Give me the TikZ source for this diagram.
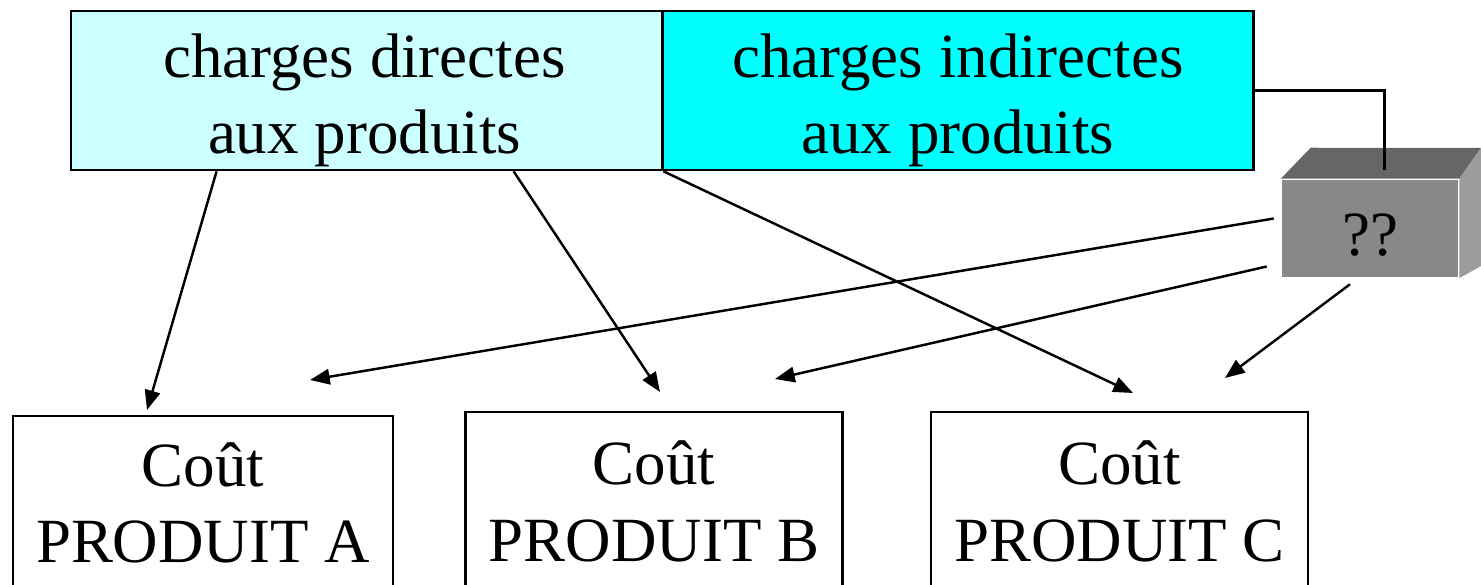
\documentclass[tikz,border=0pt]{standalone}
\usepackage{fontspec}
\setmainfont{Liberation Serif}
\usetikzlibrary{arrows.meta,positioning,calc}
\definecolor{paleblue}{HTML}{CCFFFF}
\definecolor{brightcyan}{HTML}{00FFFF}
\definecolor{boxfront}{HTML}{888888}
\definecolor{boxtop}{HTML}{666666}
\definecolor{boxside}{HTML}{9C9C9C}

\begin{document}
\begin{tikzpicture}[>={Triangle[length=5.6pt,width=4.4pt]},x=0.01cm,y=-0.01cm,line width=0.7pt,
  txt/.style={font=\fontsize{17.9}{21.7}\selectfont,align=center,inner sep=0pt},
  charge/.style={draw,inner sep=0pt,minimum width=5.91cm,minimum height=1.59cm},
  cost/.style={txt,draw,minimum width=3.77cm,minimum height=1.79cm}]
\useasboundingbox (0,0) rectangle (1481,585);
\node[charge,fill=paleblue] (dir) at (366.5,90.5) {};
\node[charge,fill=brightcyan] (ind) at (958,90.5) {};
\node[txt] (dirtext) at ($(dir)+(-2,10)$) {charges directes\\aux produits};
\node[txt] (indtext) at ($(ind)+(0,10)$) {charges indirectes\\aux produits};
\node[cost,minimum width=3.80cm,minimum height=1.74cm] (pA) at (203,503) {Coût\\PRODUIT A};
\node[cost] (pB) at (654,501.5) {Coût\\PRODUIT B};
\node[cost] (pC) at (1119.5,501.5) {Coût\\PRODUIT C};
% the grey box
\node[fill=boxfront,inner sep=0pt,minimum width=1.76cm,minimum height=0.97cm] (q) at (1370,228.5) {};
\fill[boxtop] (q.north west) -- ++(30,-31) -- (1481,148) -- (q.north east) -- cycle;
\fill[boxside] (q.north east) -- (1481,148) -- (1481,266) -- (q.south east) -- cycle;
\node[txt] (qtext) at ($(q)+(0,7)$) {??};
\coordinate (qtop) at ($(q.north west)+(104,-9)$);
\draw (ind.east) -| (qtop);
\coordinate (tA1) at (147,410);
\coordinate (tA2) at (310,380);
\coordinate (tB1) at (660,392);
\coordinate (tB2) at (775,379);
\coordinate (tC1) at (1133,393);
\coordinate (tC2) at (1225,378);
\draw[->] ($(dir.south west)+(147,0)$) -- (tA1);
\draw[->] ($(dir.south west)+(444,0)$) -- (tB1);
\draw[->] (dir.south east) -- (tC1);
\draw[->] ($(q.west)+(-7,-10)$) -- (tA2);
\draw[->] ($(q.west)+(-14,38)$) -- (tB2);
\draw[->] ($(q.south)+(-20,6)$) -- (tC2);
\end{tikzpicture}
\end{document}
